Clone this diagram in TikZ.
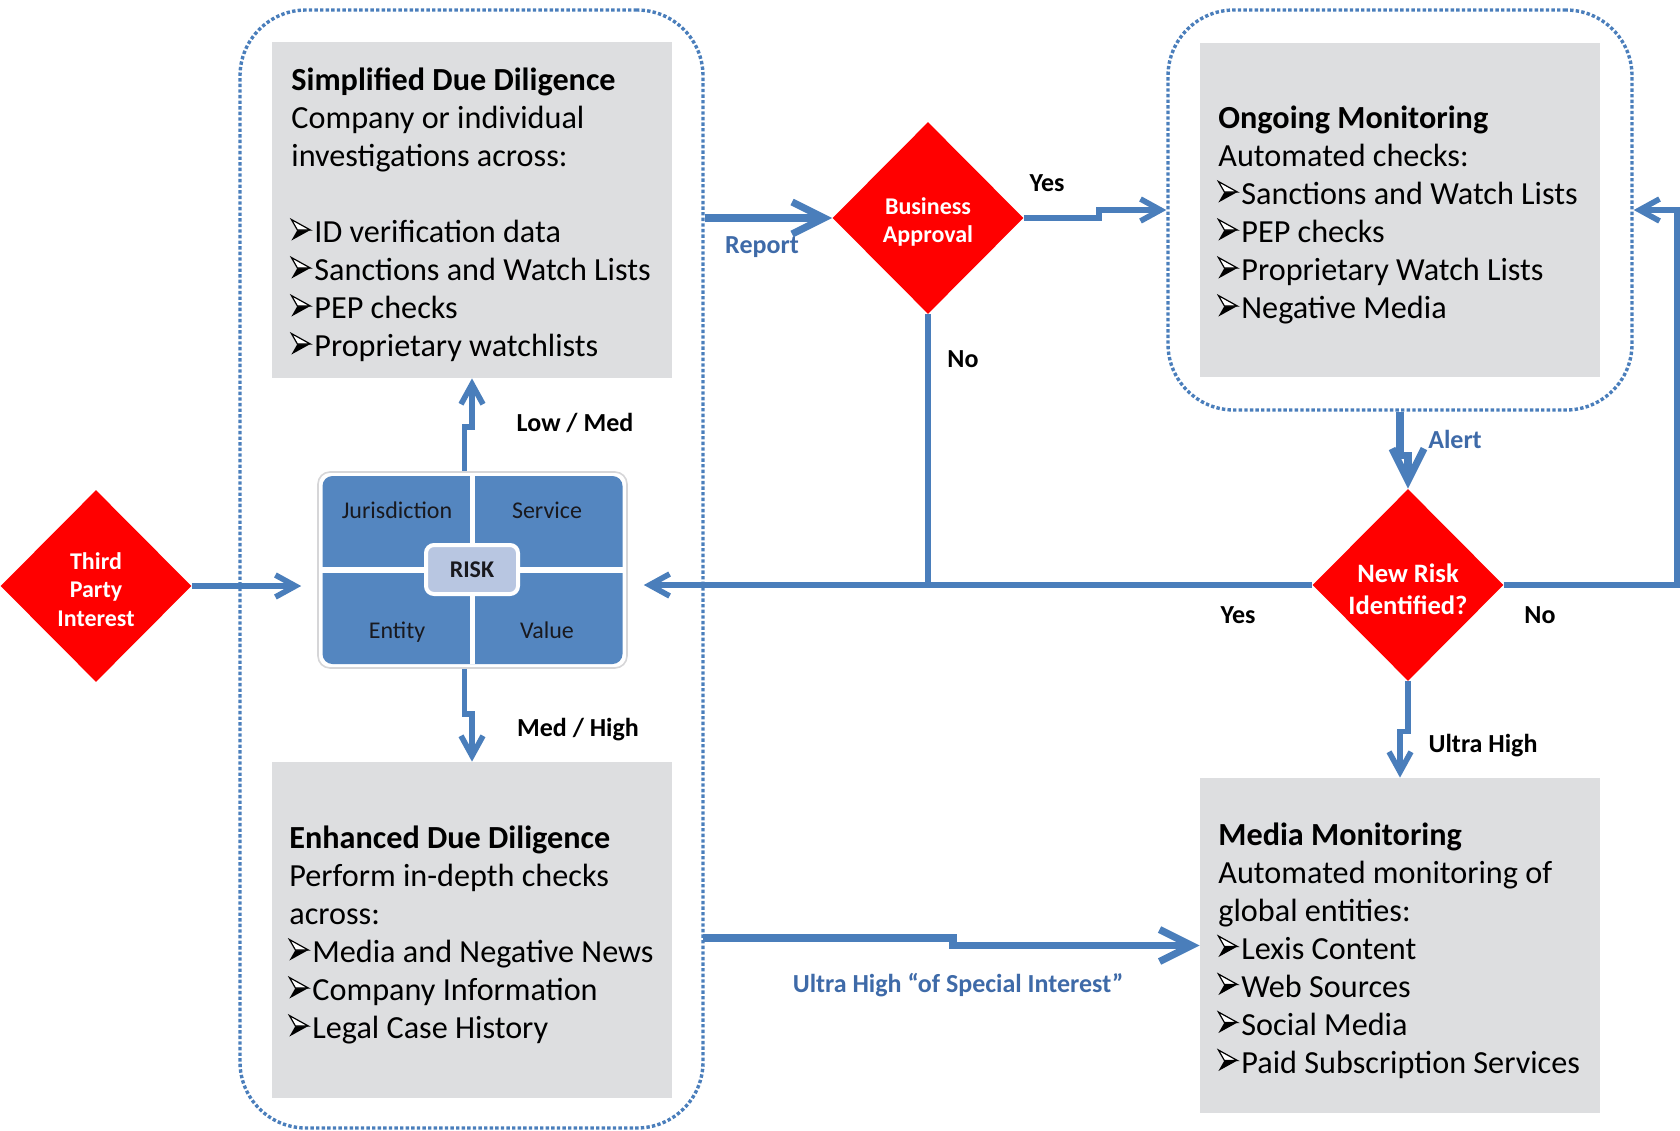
\documentclass[tikz,border=0pt]{standalone}
\usepackage{fontspec}
\setmainfont{Carlito}
\usetikzlibrary{arrows.meta,shapes.geometric,calc}

\definecolor{linkblue}{RGB}{74,126,187}
\definecolor{labelblue}{RGB}{62,106,168}
\definecolor{panelgray}{RGB}{221,222,224}
\definecolor{gridblue}{RGB}{84,134,192}
\definecolor{riskfill}{RGB}{184,198,225}
\definecolor{alarmred}{RGB}{255,0,0}
\definecolor{framegray}{RGB}{214,214,216}
\definecolor{quadtext}{RGB}{25,25,30}

% three-d arrowhead bullet, and a strut fixing the first baseline of panel text
\newsavebox\bulbox
\newcommand\arrbul{\usebox\bulbox}
\newcommand\firstline{\rule{0pt}{13pt}}

\begin{document}
\sbox\bulbox{\begin{pgfpicture}
  \pgfsetbaseline{0pt}
  \pgfpathrectangle{\pgfpointorigin}{\pgfpoint{11.5pt}{11.7pt}}
  \pgfusepath{use as bounding box}
  \pgfsetmiterjoin
  % shaded lower half
  \pgfsetfillcolor{black}
  \pgfpathmoveto{\pgfpoint{0pt}{1.2pt}}
  \pgfpathlineto{\pgfpoint{9.5pt}{6.45pt}}
  \pgfpathlineto{\pgfpoint{3pt}{6.45pt}}
  \pgfpathclose
  \pgfusepath{fill}
  % lit upper half
  \pgfsetfillcolor{white}
  \pgfsetstrokecolor{black}
  \pgfsetlinewidth{0.6pt}
  \pgfpathmoveto{\pgfpoint{0pt}{11.7pt}}
  \pgfpathlineto{\pgfpoint{9.5pt}{6.45pt}}
  \pgfpathlineto{\pgfpoint{3pt}{6.45pt}}
  \pgfpathclose
  \pgfusepath{fill,stroke}
\end{pgfpicture}}%
\begin{tikzpicture}[x=0.5pt,y=-0.5pt,
  zone/.style={draw=linkblue, line width=1.7pt, dash pattern=on 1.7pt off 1.1pt,
    rounded corners=33pt, inner sep=0pt},
  panel/.style={fill=panelgray, inner sep=0pt},
  paneltext/.style={anchor=north west, align=left, inner sep=0pt,
    font=\fontsize{16.1pt}{19pt}\selectfont},
  decision/.style={diamond, fill=alarmred, inner sep=0pt,
    minimum width=95.5pt, minimum height=96pt},
  decisiontext/.style={text=white, align=center, inner sep=0pt,
    font=\bfseries\fontsize{12pt}{14.25pt}\selectfont},
  plainconn/.style={draw=linkblue, line width=2.8pt},
  conn/.style={plainconn, -{Straight Barb[length=10pt,width=11pt]}},
  bigconn/.style={draw=linkblue, line width=3.6pt, -{Straight Barb[length=16pt,width=16pt]}},
  lbl/.style={font=\bfseries\fontsize{13pt}{15pt}\selectfont, inner sep=0pt},
  bluelbl/.style={lbl, text=labelblue},
  quad/.style={font=\fontsize{12pt}{14pt}\selectfont, text=quadtext, inner sep=0pt,
    text height=8.5pt, text depth=2.5pt}]

\useasboundingbox (0,0) rectangle (1680,1130);

% dotted grouping zones
\node[zone, minimum width=231.5pt, minimum height=559pt] (leftzone) at (471.5,569) {};
\node[zone, minimum width=232pt, minimum height=200pt] (rightzone) at (1400,210) {};

% grey panels
\node[panel, minimum width=200pt, minimum height=168pt] (sdd) at (472,210) {};
\node[panel, minimum width=200pt, minimum height=168pt] (edd) at (472,930) {};
\node[panel, minimum width=200pt, minimum height=167pt] (om) at (1400,210) {};
\node[panel, minimum width=200pt, minimum height=167.5pt] (mm) at (1400,945.5) {};

\node[paneltext] (sddtext) at (291,64.5) {\firstline\textbf{Simplified Due Diligence}\\
  Company or individual\\
  investigations across:\\[19pt]
  \arrbul ID verification data\\
  \arrbul Sanctions and Watch Lists\\
  \arrbul PEP checks\\
  \arrbul Proprietary watchlists};

\node[paneltext] (eddtext) at (289,822.5) {\firstline\textbf{Enhanced Due Diligence}\\
  Perform in-depth checks\\
  across:\\
  \arrbul Media and Negative News\\
  \arrbul Company Information\\
  \arrbul Legal Case History};

\node[paneltext] (omtext) at (1218,102.5) {\firstline\textbf{Ongoing Monitoring}\\
  Automated checks:\\
  \arrbul Sanctions and Watch Lists\\
  \arrbul PEP checks\\
  \arrbul Proprietary Watch Lists\\
  \arrbul Negative Media};

\node[paneltext] (mmtext) at (1218,819) {\firstline\textbf{Media Monitoring}\\
  Automated monitoring of\\
  global entities:\\
  \arrbul Lexis Content\\
  \arrbul Web Sources\\
  \arrbul Social Media\\
  \arrbul Paid Subscription Services};

% risk matrix
\node[fill=white, draw=framegray, line width=0.8pt, rounded corners=6pt,
  minimum width=154.5pt, minimum height=98pt, inner sep=0pt] (riskframe) at (472.5,570) {};
\node[fill=gridblue, rounded corners=5pt, minimum width=150pt, minimum height=94pt,
  inner sep=0pt] (riskgrid) at (472.5,570) {};
\draw[white, line width=2.6pt] (riskgrid.north) -- (riskgrid.south);
\draw[white, line width=2.6pt] (riskgrid.west) -- (riskgrid.east);
\node[quad] (qjur) at (397,512) {Jurisdiction};
\node[quad] (qser) at (547,512) {Service};
\node[quad] (qent) at (397,632) {Entity};
\node[quad] (qval) at (547,632) {Value};
\node[fill=riskfill, draw=white, line width=2pt, rounded corners=4pt,
  minimum width=46pt, minimum height=24.5pt, inner sep=0pt,
  font=\bfseries\fontsize{12pt}{14pt}\selectfont, text=quadtext] (risk) at (472,569.5) {RISK};

% decisions
\node[decision] (tpi) at (96,586) {};
\node[decision] (ba) at (928,218) {};
\node[decision] (nri) at (1408,585) {};
\node[decisiontext] (tpitext) at ([yshift=-1.6pt]tpi.center) {Third\\Party\\Interest};
\node[decisiontext] (batext) at ([yshift=-2pt]ba.center) {Business\\Approval};
\node[decisiontext, font=\bfseries\fontsize{13.3pt}{16pt}\selectfont] (nritext)
  at ([yshift=-2.1pt]nri.center) {New Risk\\Identified?};

% connectors
\coordinate (gridin) at ($(riskframe.west)+(-16,16)$);
\coordinate (gridback) at ($(riskframe.east)+(16,16)$);
\coordinate (uhstart) at (703,938);

\draw[conn] (tpi.east) -- (gridin);
\draw[conn] (nri.west) -- (nri.west -| gridback);
\draw[plainconn] (ba.south) -- (ba.south |- nri.west);
\draw[bigconn] (leftzone.east |- ba.west) -- (ba.west);
\draw[conn] (ba.east) -- ++(75,0) |- (rightzone.west);
\draw[conn] (nri.east) -- ++(173,0) |- (rightzone.east);
\draw[bigconn] (rightzone.south) -- ++(0,44) -| (nri.north);
\draw[conn] (nri.south) -- ++(0,50) -| (mm.north);
\draw[bigconn] (uhstart) -- ++(250,0) |- (mm.west);
\draw[conn] ($(riskframe.north)+(-8,0)$) -- ++(0,-44) -| (sdd.south);
\draw[conn] ($(riskframe.south)+(-8,0)$) -- ++(0,45) -| (edd.north);

% connector labels
\node[lbl] (lowmed) at (575,423) {Low / Med};
\node[lbl] (medhigh) at (578,730) {Med / High};
\node[lbl] (bayes) at (1047,183) {Yes};
\node[lbl] (bano) at (963,359) {No};
\node[lbl] (nriyes) at (1238,615) {Yes};
\node[lbl] (nrino) at (1540,615) {No};
\node[lbl] (uhlbl) at (1483,746) {Ultra High};
\node[bluelbl] (reportlbl) at (762,247) {Report};
\node[bluelbl] (alertlbl) at (1455,439) {Alert};
\node[bluelbl] (uhspecial) at (958,985) {Ultra High “of Special Interest”};
\end{tikzpicture}
\end{document}
